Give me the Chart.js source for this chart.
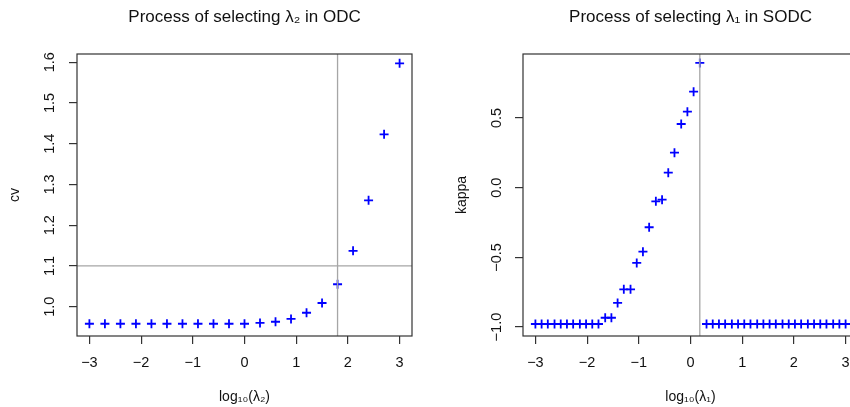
<!DOCTYPE html>
<html>
<head>
<meta charset="utf-8">
<script src="https://cdn.jsdelivr.net/npm/chart.js@4.4.1/dist/chart.umd.min.js"></script>
<style>
  html, body { margin: 0; padding: 0; background: #fff; overflow: hidden; width: 850px; height: 407px; }
  canvas { position: absolute; top: 0; }
  #gauche { left: 0; }
  #droite { left: 425px; }
</style>
</head>
<body>
<canvas id="gauche" width="425" height="407"></canvas>
<canvas id="droite" width="450" height="407"></canvas>
<script>
// --- ODC : choix de lambda2 ---
const logLambda2 = [-3, -2.7, -2.4, -2.1, -1.8, -1.5, -1.2, -0.9, -0.6, -0.3, 0, 0.3, 0.6, 0.9, 1.2, 1.5, 1.8, 2.1, 2.4, 2.7, 3];
const cvValeurs = [0.958, 0.958, 0.958, 0.958, 0.958, 0.958, 0.958, 0.958, 0.958, 0.958, 0.958, 0.960, 0.963, 0.970, 0.985, 1.009, 1.055, 1.137, 1.261, 1.423, 1.597];
const cvTicksX = [-3, -2, -1, 0, 1, 2, 3];
const cvTicksY = [1.0, 1.1, 1.2, 1.3, 1.4, 1.5, 1.6];
const cvChoixX = 1.8;
const cvSeuilY = 1.1;

// --- SODC : choix de lambda1 ---
const logLambda1 = [-3.00, -2.88, -2.76, -2.63, -2.51, -2.39, -2.27, -2.14, -2.02, -1.90,
  -1.78, -1.65, -1.53, -1.41, -1.29, -1.16, -1.04, -0.92, -0.80, -0.67,
  -0.55, -0.43, -0.31, -0.18, -0.06, 0.06, 0.18, 0.31, 0.43, 0.55,
  0.67, 0.80, 0.92, 1.04, 1.16, 1.29, 1.41, 1.53, 1.65, 1.78,
  1.90, 2.02, 2.14, 2.27, 2.39, 2.51, 2.63, 2.76, 2.88, 3.00];
const kappaValeurs = [-0.978, -0.978, -0.978, -0.978, -0.978, -0.978, -0.978, -0.978, -0.978, -0.978,
  -0.978, -0.933, -0.933, -0.827, -0.729, -0.729, -0.540, -0.459, -0.284, -0.098,
  -0.086, 0.108, 0.251, 0.457, 0.545, 0.689, 0.895, -0.978, -0.978, -0.978,
  -0.978, -0.978, -0.978, -0.978, -0.978, -0.978, -0.978, -0.978, -0.978, -0.978,
  -0.978, -0.978, -0.978, -0.978, -0.978, -0.978, -0.978, -0.978, -0.978, -0.978];
const kappaTicksX = [-3, -2, -1, 0, 1, 2, 3];
const kappaTicksY = [-1.0, -0.5, 0.0, 0.5];
const kappaChoixX = 0.18;

const police = "'Liberation Sans', Arial, sans-serif";
const moins = s => String(s).replace('-', '\u2212');

// cadre autour de la zone de tracé + lignes de référence grises
const cadre = {
    id: 'cadre',
    afterDatasetsDraw(chart, args, opts) {
        const ctx = chart.ctx;
        const a = chart.chartArea;
        ctx.save();
        ctx.strokeStyle = '#a6a6a6';
        ctx.lineWidth = 1.3;
        if (opts.vx !== undefined) {
            const px = chart.scales.x.getPixelForValue(opts.vx);
            ctx.beginPath(); ctx.moveTo(px, a.top); ctx.lineTo(px, a.bottom); ctx.stroke();
        }
        if (opts.hy !== undefined) {
            const py = chart.scales.y.getPixelForValue(opts.hy);
            ctx.beginPath(); ctx.moveTo(a.left, py); ctx.lineTo(a.right, py); ctx.stroke();
        }
        ctx.strokeStyle = '#333';
        ctx.lineWidth = 1.2;
        ctx.strokeRect(a.left, a.top, a.right - a.left, a.bottom - a.top);
        ctx.restore();
    }
};

function faireGraphique(id, xs, ys, cfg) {
    const ctx = document.getElementById(id).getContext('2d');
    return new Chart(ctx, {
        type: 'scatter',
        data: {
            datasets: [{
                data: xs.map((x, i) => ({ x: x, y: ys[i] })),
                pointStyle: 'cross',
                pointRadius: 4.5,
                pointBorderWidth: 1.8,
                borderColor: '#0000ff',
                backgroundColor: '#0000ff'
            }]
        },
        options: {
            responsive: false,
            animation: false,
            layout: { padding: { left: 0, right: cfg.padDroite, top: 0, bottom: 0 } },
            plugins: {
                legend: { display: false },
                tooltip: { enabled: false },
                title: {
                    display: true,
                    text: cfg.titre,
                    fullSize: false,
                    color: '#111',
                    font: { family: police, size: 17, weight: 'normal' },
                    padding: { top: 7, bottom: 26.6 }
                },
                cadre: { vx: cfg.vx, hy: cfg.hy }
            },
            scales: {
                x: {
                    type: 'linear',
                    min: -3.24, max: 3.24,
                    afterBuildTicks: s => { s.ticks = cfg.ticksX.map(v => ({ value: v })); },
                    afterFit: s => { s.height = 71; },
                    border: { display: false },
                    grid: { drawOnChartArea: false, drawTicks: true, tickLength: 8, color: '#333', lineWidth: 1.2 },
                    ticks: {
                        color: '#111', padding: 10, maxRotation: 0,
                        font: { family: police, size: 14.5 },
                        callback: v => moins(v)
                    },
                    title: {
                        display: true, text: cfg.titreX, color: '#111',
                        font: { family: police, size: 14 },
                        padding: { top: 4, bottom: 1 }
                    }
                },
                y: {
                    type: 'linear',
                    min: cfg.yMin, max: cfg.yMax,
                    afterBuildTicks: s => { s.ticks = cfg.ticksY.map(v => ({ value: v })); },
                    afterFit: s => { s.width = cfg.largeurY; },
                    border: { display: false },
                    grid: { drawOnChartArea: false, drawTicks: true, tickLength: 8, color: '#333', lineWidth: 1.2 },
                    ticks: {
                        color: '#111', padding: cfg.padTickY, minRotation: 90, maxRotation: 90,
                        crossAlign: 'center',
                        font: { family: police, size: 14.5 },
                        callback: v => moins(Number(v).toFixed(1))
                    },
                    title: {
                        display: true, text: cfg.titreY, color: '#111',
                        font: { family: police, size: 14 },
                        padding: { top: cfg.padTitreY, bottom: 4 }
                    }
                }
            }
        },
        plugins: [cadre]
    });
}

faireGraphique('gauche', logLambda2, cvValeurs, {
    titre: 'Process of selecting \u03bb\u2082 in ODC',
    titreX: 'log\u2081\u2080(\u03bb\u2082)',
    titreY: 'cv',
    ticksX: cvTicksX, ticksY: cvTicksY,
    yMin: 0.928, yMax: 1.62,
    vx: cvChoixX, hy: cvSeuilY,
    largeurY: 77, padDroite: 13, padTickY: 9, padTitreY: 6.6
});

faireGraphique('droite', logLambda1, kappaValeurs, {
    titre: 'Process of selecting \u03bb\u2081 in SODC',
    titreX: 'log\u2081\u2080(\u03bb\u2081)',
    titreY: 'kappa',
    ticksX: kappaTicksX, ticksY: kappaTicksY,
    yMin: -1.064, yMax: 0.959,
    vx: kappaChoixX,
    largeurY: 98, padDroite: 17, padTickY: 4, padTitreY: 28.3
});
</script>
</body>
</html>
